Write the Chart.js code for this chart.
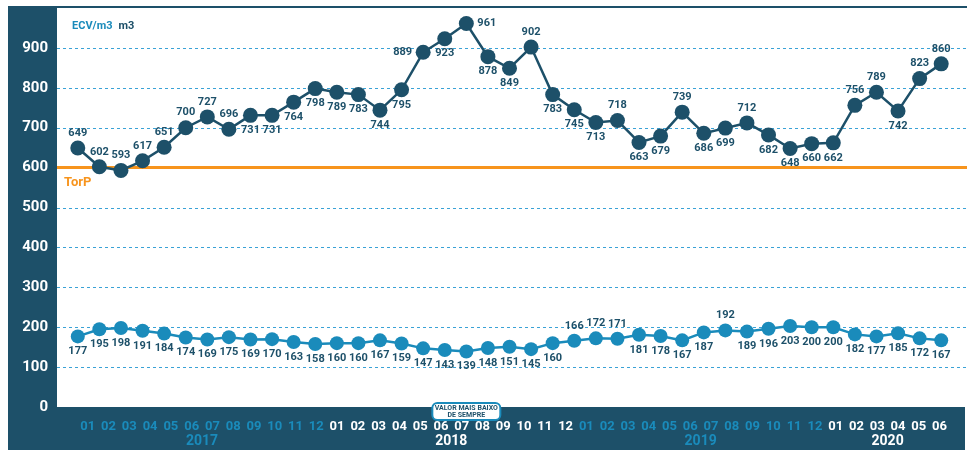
<!DOCTYPE html>
<html>
  <head>
    <title>ECV/m3</title>
    <script src="https://cdn.jsdelivr.net/npm/chart.js@4.4.1/dist/chart.umd.min.js"></script>
    <style>
      body { margin: 0; background: #fff; }
    </style>
  </head>
  <body>
    <canvas id="myChart" width="967" height="450"></canvas>
    <script>
      // values
      const ecv = [649, 602, 593, 617, 651, 700, 727, 696, 731, 731, 764, 798,
                   789, 783, 744, 795, 889, 923, 961, 878, 849, 902, 783, 745,
                   713, 718, 663, 679, 739, 686, 699, 712, 682, 648, 660, 662,
                   756, 789, 742, 823, 860];
      const m3 = [177, 195, 198, 191, 184, 174, 169, 175, 169, 170, 163, 158,
                  160, 160, 167, 159, 147, 143, 139, 148, 151, 145, 160, 166,
                  172, 171, 181, 178, 167, 187, 192, 189, 196, 203, 200, 200,
                  182, 177, 185, 172, 167];
      const monthLabels = ['01','02','03','04','05','06','07','08','09','10','11','12',
                           '01','02','03','04','05','06','07','08','09','10','11','12',
                           '01','02','03','04','05','06','07','08','09','10','11','12',
                           '01','02','03','04','05','06'];
      const years = ['2017', '2018', '2019', '2020'];
      const torp = 600;

      // where each value label sits: t = above, b = below, l = left, r = right
      const ecvPos = ['t','t','t','t','t','t','t','t','b','b','b','b',
                      'b','b','b','b','l','b','r','b','b','t','b','b',
                      'b','t','b','b','t','b','b','t','b','b','b','b',
                      't','t','b','t','t'];
      const m3Pos = m3.map((v, i) => (i >= 23 && i <= 25) || i === 30 ? 't' : 'b');
      const lowestIdx = m3.indexOf(Math.min(...m3));

      const NAVY = '#1d5069';
      const BLUE = '#1a8bbb';
      const ORANGE = '#f7941d';
      const FONT = 'Roboto, "Liberation Sans", sans-serif';

      const frame = {
        id: 'frame',
        beforeDraw(chart) {
          const c = chart.ctx;
          const W = chart.width, H = chart.height;
          c.save();
          c.fillStyle = '#fff';
          c.fillRect(0, 0, W, H);
          c.fillStyle = NAVY;
          c.fillRect(8, 8, 49, H - 8);
          c.fillRect(8, chart.chartArea.bottom, W - 10, H - chart.chartArea.bottom);
          c.fillRect(8, 6, W - 8, 2);
          c.restore();
        },
        beforeDatasetsDraw(chart) {
          const c = chart.ctx;
          const y = chart.scales.y;
          c.save();
          c.strokeStyle = '#3aa2d6';
          c.lineWidth = 1;
          c.setLineDash([3, 3]);
          for (let v = 100; v <= 900; v += 100) {
            if (v === torp) continue;
            const py = Math.round(y.getPixelForValue(v)) + 0.5;
            c.beginPath();
            c.moveTo(57, py);
            c.lineTo(chart.width, py);
            c.stroke();
          }
          c.setLineDash([]);
          c.strokeStyle = ORANGE;
          c.lineWidth = 3;
          const ty = y.getPixelForValue(torp);
          c.beginPath();
          c.moveTo(57, ty);
          c.lineTo(chart.width, ty);
          c.stroke();
          c.fillStyle = ORANGE;
          c.font = 'bold 13px ' + FONT;
          c.textBaseline = 'middle';
          c.fillText('TorP', 64, ty + 15);
          // legend text
          c.font = 'bold 11px ' + FONT;
          c.fillStyle = BLUE;
          c.fillText('ECV/m3', 72, 26);
          const w = c.measureText('ECV/m3').width;
          c.fillStyle = NAVY;
          c.fillText('m3', 72 + w + 6, 26);
          c.restore();
        },
        afterDatasetsDraw(chart) {
          const c = chart.ctx;
          c.save();
          c.font = 'bold 11px ' + FONT;
          c.fillStyle = NAVY;
          c.textBaseline = 'middle';
          [[0, ecv, ecvPos], [1, m3, m3Pos]].forEach(([di, vals, pos]) => {
            const pts = chart.getDatasetMeta(di).data;
            pts.forEach((p, i) => {
              let x = p.x, yy = p.y;
              c.textAlign = 'center';
              if (pos[i] === 't') yy -= 15;
              else if (pos[i] === 'b') yy += 15;
              else if (pos[i] === 'l') { x -= 11; c.textAlign = 'right'; }
              else if (pos[i] === 'r') { x += 11; c.textAlign = 'left'; }
              c.fillText(String(vals[i]), x, yy);
            });
          });
          c.restore();
        },
        afterDraw(chart) {
          const c = chart.ctx;
          const xm = chart.scales.xm;
          c.save();
          c.font = 'bold 14px ' + FONT;
          c.textAlign = 'center';
          c.textBaseline = 'middle';
          years.forEach((yr, k) => {
            const first = k * 12;
            const last = Math.min(first + 11, monthLabels.length - 1);
            c.fillStyle = k % 2 === 0 ? BLUE : '#fff';
            c.fillText(yr, xm.getPixelForValue((first + last) / 2), 441);
          });
          // callout under the lowest value
          const p = chart.getDatasetMeta(1).data[lowestIdx];
          const bw = 68, bh = 17, bx = p.x - bw / 2, by = 403;
          c.beginPath();
          c.roundRect(bx, by, bw, bh, 5);
          c.fillStyle = '#fff';
          c.fill();
          c.strokeStyle = BLUE;
          c.lineWidth = 2;
          c.stroke();
          c.fillStyle = NAVY;
          c.font = 'bold 7px ' + FONT;
          c.fillText('VALOR MAIS BAIXO', p.x, by + 5.5);
          c.fillText('DE SEMPRE', p.x, by + 12);
          c.restore();
        }
      };

      const ctx = document.getElementById('myChart').getContext('2d');
      new Chart(ctx, {
        type: 'line',
        data: {
          labels: ecv.map((v, i) => i),
          datasets: [
            {
              label: 'ECV/m3',
              data: ecv,
              borderColor: NAVY,
              backgroundColor: NAVY,
              borderWidth: 2.5,
              pointRadius: 7.5,
              pointHoverRadius: 7.5,
              pointBorderWidth: 0,
              tension: 0,
              clip: false,
            },
            {
              label: 'm3',
              data: m3,
              borderColor: BLUE,
              backgroundColor: BLUE,
              borderWidth: 2.5,
              pointRadius: 7,
              pointHoverRadius: 7,
              pointBorderWidth: 0,
              tension: 0,
              clip: false,
            },
          ],
        },
        options: {
          responsive: false,
          devicePixelRatio: 1,
          animation: false,
          events: [],
          layout: { autoPadding: false, padding: { top: 8, right: 15, left: 0, bottom: 0 } },
          plugins: { legend: { display: false }, tooltip: { enabled: false } },
          scales: {
            x: { type: 'category', display: false, offset: true },
            xm: {
              type: 'linear',
              position: 'bottom',
              min: -1,
              max: 41.6,
              grid: { display: false, drawTicks: false },
              border: { display: false },
              afterBuildTicks(scale) {
                scale.ticks = monthLabels.map((m, i) => ({ value: i }));
              },
              afterFit(scale) { scale.height = 43; },
              ticks: {
                autoSkip: false,
                maxRotation: 0,
                padding: 12,
                font: { family: FONT, size: 13, weight: 'bold' },
                color: (c) => (Math.floor(c.tick.value / 12) % 2 === 0 ? BLUE : '#fff'),
                callback: (v) => monthLabels[v],
              },
            },
            y: {
              min: 0,
              max: 1000,
              grid: { display: false, drawTicks: false },
              border: { display: false },
              afterFit(scale) {
                scale.width = 67;
                scale.paddingTop = 0;
                scale.paddingBottom = 0;
              },
              ticks: {
                stepSize: 100,
                padding: 19,
                color: '#fff',
                font: { family: FONT, size: 15, weight: 'bold' },
                callback: (v) => (v >= 1000 ? null : v),
              },
            },
          },
        },
        plugins: [frame],
      });
    </script>
  </body>
</html>
